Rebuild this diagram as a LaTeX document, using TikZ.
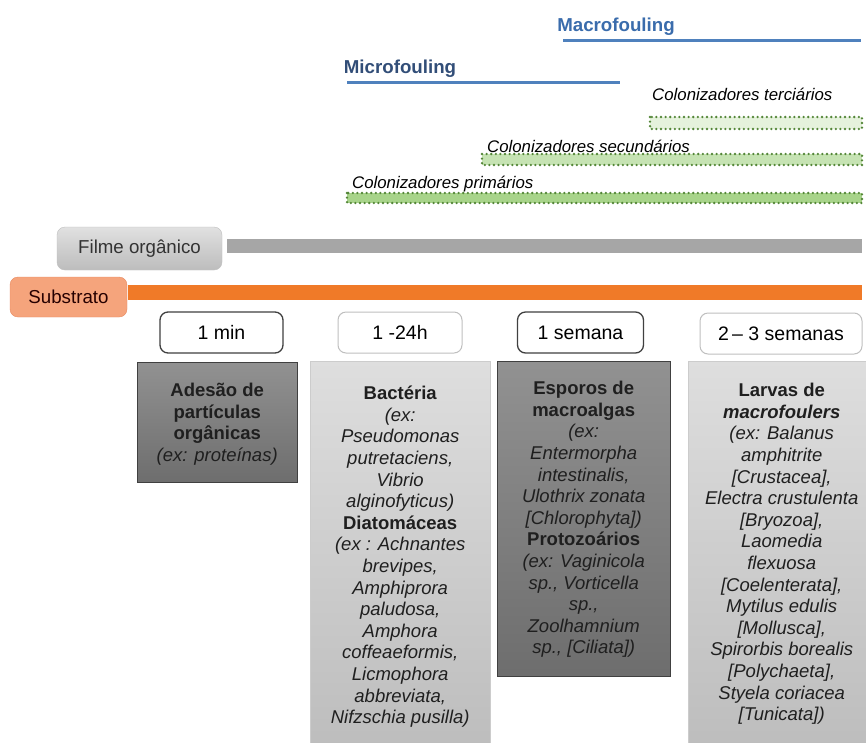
\documentclass[tikz,border=0pt]{standalone}
\usepackage{fontspec}
\setmainfont{Liberation Sans}
\usetikzlibrary{positioning}
\definecolor{microblue}{RGB}{50,78,120}
\definecolor{macroblue}{RGB}{58,108,172}
\definecolor{lineblue}{RGB}{79,129,189}
\definecolor{barorange}{RGB}{240,122,40}
\definecolor{boxsalmon}{RGB}{245,164,124}
\definecolor{salmonline}{RGB}{232,138,96}
\definecolor{dotgreen}{RGB}{84,134,56}
\definecolor{fillgreen}{RGB}{168,212,138}
\newcommand{\boxhead}[1]{\textbf{\upshape #1}}

\begin{document}
\begin{tikzpicture}[x=1pt,y=-1pt,
  colbar/.style={draw=dotgreen,line width=2.6pt,line cap=round,dash pattern=on 0pt off 4.6pt},
  collabel/.style={anchor=west,inner sep=0,font=\fontsize{16.8}{19}\selectfont\itshape},
  headlabel/.style={inner sep=0,font=\fontsize{18.7}{21}\selectfont\bfseries},
  timebox/.style={rounded corners=8pt,fill=white,minimum height=41pt,font=\fontsize{19.5}{22}\selectfont},
  darkbox/.style={anchor=north west,inner sep=0,draw=black!75,top color=black!43,bottom color=black!57},
  lightbox/.style={anchor=north west,inner sep=0,draw=black!20,top color=black!13,bottom color=black!26},
  boxtext/.style={inner sep=0,align=center,text=black!88,font=\fontsize{18.5}{21.6}\selectfont\itshape}]
\clip (0,0) rectangle (866,742);
\fill[white] (0,0) rectangle (866,742);

\node[headlabel,text=macroblue] (macro) at (616,27) {Macrofouling};
\node[headlabel,text=microblue] (micro) at (400,69) {Microfouling};
\path[draw,lineblue,line width=3pt] (563,40) -- (861,40);
\path[draw,lineblue,line width=3pt] (347,82) -- (620,82);

\node[collabel] (terc) at (652,94) {Colonizadores terciários};
\node[collabel] (sec) at (487,146) {Colonizadores secundários};
\node[collabel] (prim) at (352,184) {Colonizadores primários};
\path[colbar,fill=fillgreen!30] (650,117) rectangle (862,129);
\path[colbar,fill=fillgreen!65] (482,154) rectangle (862,165);
\path[colbar,fill=fillgreen] (347,193) rectangle (862,203);

\node[rounded corners=8pt,draw=black!25,top color=black!12,bottom color=black!26,minimum width=165pt,minimum height=43pt,text=black!80,font=\fontsize{18.7}{21}\selectfont] (filme) at (139.5,248.5) {Filme orgânico};
\node[rounded corners=8pt,draw=salmonline,fill=boxsalmon,minimum width=117pt,minimum height=40pt,text=black!85!red,font=\fontsize{18.7}{21}\selectfont] (substrato) at (68.5,297) {Substrato};
\coordinate (filmeStart) at (227,246);
\coordinate (filmeEnd) at (862,246);
\coordinate (substratoStart) at (128,292.5);
\coordinate (substratoEnd) at (862,292.5);
\path[draw,black!35,line width=14pt] (filmeStart) -- (filmeEnd);
\path[draw,barorange,line width=15pt] (substratoStart) -- (substratoEnd);

\node[timebox,draw=black!75,line width=1.3pt,minimum width=123pt] (t1) at (221.5,332.5) {1 min};
\node[timebox,draw=black!25,line width=1pt,minimum width=124pt] (t2) at (400,332.5) {1 -24h};
\node[timebox,draw=black!75,line width=1.3pt,minimum width=126pt] (t3) at (580.5,332.5) {1 semana};
\node[timebox,draw=black!25,line width=1pt,minimum width=162pt] (t4) at (781,333.5) {2\,– 3 semanas};

\node[darkbox,minimum width=160pt,minimum height=120pt] (adesao) at (137,362) {};
\node[lightbox,minimum width=180pt,minimum height=390pt] (bacteria) at (310,361) {};
\node[darkbox,minimum width=173pt,minimum height=315pt] (esporos) at (497,361) {};
\node[lightbox,minimum width=187pt,minimum height=390pt] (larvas) at (688,361) {};

\node[boxtext,below=21pt of adesao.north] (adesaoText) {\boxhead{Adesão de}\\\boxhead{partículas}\\\boxhead{orgânicas}\\(ex: proteínas)};
\node[boxtext,below=25pt of bacteria.north] (bacteriaText) {\boxhead{Bactéria}\\(ex:\\Pseudomonas\\putretaciens,\\Vibrio\\alginofyticus)\\\boxhead{Diatomáceas}\\(ex : Achnantes\\brevipes,\\Amphiprora\\paludosa,\\Amphora\\coffeaeformis,\\Licmophora\\abbreviata,\\Nifzschia pusilla)};
\node[boxtext,below=20pt of esporos.north] (esporosText) {\boxhead{Esporos de}\\\boxhead{macroalgas}\\(ex:\\Entermorpha\\intestinalis,\\Ulothrix zonata\\{[}Chlorophyta{]})\\\boxhead{Protozoários}\\(ex: Vaginicola\\sp., Vorticella\\sp.,\\Zoolhamnium\\sp., {[}Ciliata{]})};
\node[boxtext,below=22pt of larvas.north] (larvasText) {\boxhead{Larvas de}\\\textbf{macrofoulers}\\(ex: Balanus\\amphitrite\\{[}Crustacea{]},\\Electra crustulenta\\{[}Bryozoa{]},\\Laomedia\\flexuosa\\{[}Coelenterata{]},\\Mytilus edulis\\{[}Mollusca{]},\\Spirorbis borealis\\{[}Polychaeta{]},\\Styela coriacea\\{[}Tunicata{]})};
\end{tikzpicture}
\end{document}
